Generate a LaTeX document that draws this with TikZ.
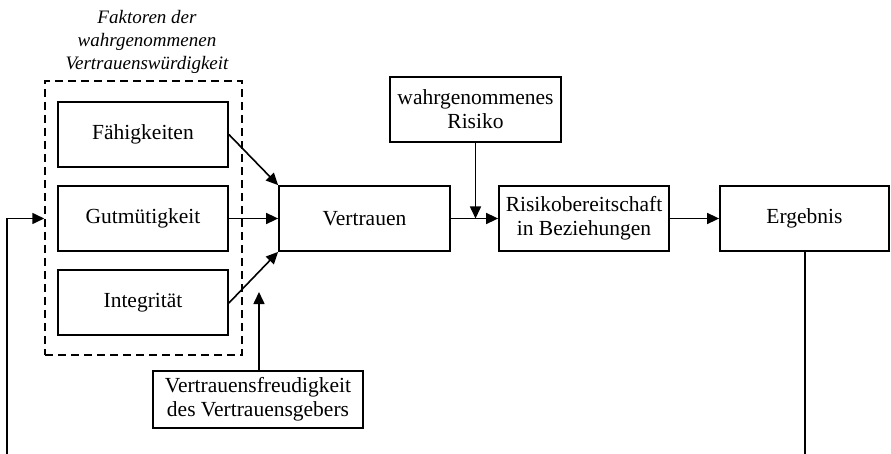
\documentclass[tikz,border=0pt]{standalone}
\usepackage{fontspec}
\setmainfont{Liberation Serif}
\usetikzlibrary{arrows.meta}
\begin{document}
\begin{tikzpicture}[x=1pt,y=-1pt,
  box/.style={draw,line width=1.8pt,rectangle,inner sep=0pt,align=center,
    font=\fontsize{21.5}{24}\selectfont},
  conn/.style={line width=1.6pt,-{Triangle[length=12pt,width=11pt]}},
  group/.style={draw,dashed,line width=1.5pt,dash pattern=on 8pt off 5pt,rectangle,inner sep=0pt},
  heading/.style={align=center,font=\fontsize{19}{23}\selectfont\itshape}]
\useasboundingbox (0,0) rectangle (891,454);

% dashed group of trustworthiness factors
\node[group,minimum width=197pt,minimum height=274pt] (grp) at (143.5,218) {};
\node[heading] (ttl) at (147,42) {Faktoren der\\wahrgenommenen\\Vertrauenswürdigkeit};

% factor boxes
\node[box,minimum width=170pt,minimum height=65pt] (fah) at (143,134.5) {Fähigkeiten};
\node[box,minimum width=170pt,minimum height=65pt] (gut) at (143,218.5) {Gutmütigkeit};
\node[box,minimum width=170pt,minimum height=65pt] (int) at (143,302.5) {Integrität};

% main chain
\node[box,minimum width=171pt,minimum height=65pt] (ver) at (364.5,218.5) {Vertrauen};
\node[box,minimum width=170pt,minimum height=65pt] (ris) at (584,218.5) {Risikobereitschaft\\in Beziehungen};
\node[box,minimum width=169pt,minimum height=65pt] (erg) at (804.5,218.5) {Ergebnis};

% moderators
\node[box,minimum width=171pt,minimum height=65pt] (wr) at (475.5,109.5) {wahrgenommenes\\Risiko};
\node[box,minimum width=210pt,minimum height=57pt] (vf) at (258,399.5) {Vertrauensfreudigkeit\\des Vertrauensgebers};

\coordinate (wrTip) at (wr.south |- ver.east);
\coordinate (vfTip) at (259,292);
\coordinate (fbY) at (0,475);
\coordinate (fbX) at (7,0);

% connectors into trust
\draw[conn] (fah.east) -- (ver.north west);
\draw[conn] (gut.east) -- (ver.west);
\draw[conn] ([yshift=-0.5pt]int.east) -- (ver.south west);
\draw[conn] (vf.north -| vfTip) -- (vfTip);

% trust to risk taking to outcome
\draw[conn] (ver.east) -- (ris.west);
\draw[conn] (wr.south) -- (wrTip);
\draw[conn] (ris.east) -- (erg.west);

% feedback loop back to the factors
\begin{scope}
\clip (0,0) rectangle (891,454);
\draw[conn] ([xshift=0.5pt]erg.south) -- ([xshift=0.5pt]erg.south |- fbY) -- (fbX |- fbY) -- (fbX |- gut.west) -- (grp.west |- gut.west);
\end{scope}
\end{tikzpicture}
\end{document}
